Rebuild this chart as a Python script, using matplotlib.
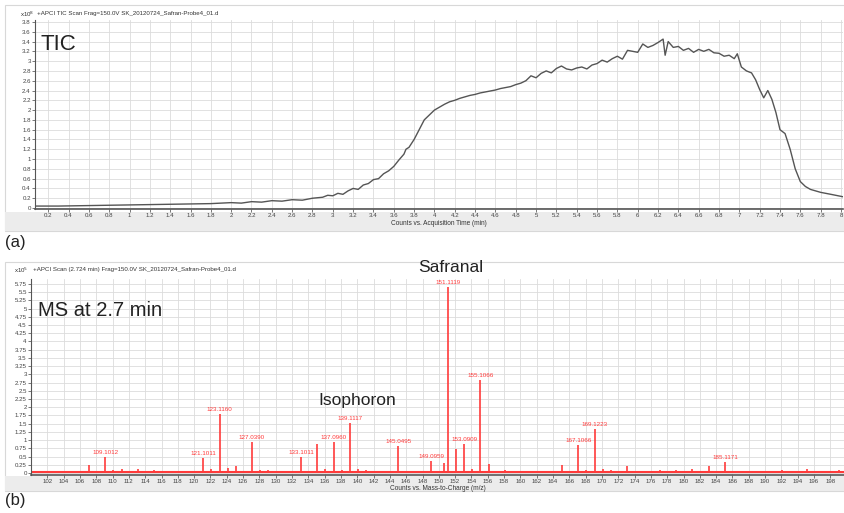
import matplotlib.pyplot as plt
from matplotlib.patches import Rectangle
import numpy as np

plt.rcParams['font.family'] = ['Liberation Sans', 'DejaVu Sans']

W, H = 845, 513

# TIC trace (x10^8 counts) vs acquisition time (min)
tic_time = [0.07, 0.3, 0.6, 0.9, 1.2, 1.5, 1.8, 2.0, 2.1, 2.2, 2.3, 2.4, 2.5, 2.6, 2.7,
            2.8, 2.9, 2.95, 3.0, 3.05, 3.1, 3.15, 3.2, 3.25, 3.3, 3.35, 3.4, 3.45, 3.5,
            3.55, 3.6, 3.65, 3.7, 3.72, 3.75, 3.8, 3.85, 3.9, 3.95, 4.0, 4.05, 4.1, 4.15,
            4.2, 4.25, 4.3, 4.35, 4.4, 4.45, 4.5, 4.55, 4.6, 4.65, 4.7, 4.75, 4.8, 4.85,
            4.9, 4.95, 5.0, 5.05, 5.1, 5.15, 5.2, 5.25, 5.3, 5.35, 5.4, 5.45, 5.5, 5.55,
            5.6, 5.65, 5.7, 5.75, 5.8, 5.85, 5.9, 5.95, 6.0, 6.05, 6.1, 6.15, 6.2, 6.25,
            6.27, 6.3, 6.35, 6.4, 6.45, 6.5, 6.55, 6.6, 6.65, 6.7, 6.75, 6.8, 6.85, 6.9,
            6.95, 6.98, 7.02, 7.07, 7.12, 7.16, 7.2, 7.24, 7.28, 7.32, 7.36, 7.4, 7.45,
            7.5, 7.55, 7.6, 7.65, 7.7, 7.8, 7.9, 8.02]
tic_counts = [0.04, 0.04, 0.05, 0.06, 0.07, 0.08, 0.09, 0.11, 0.10, 0.13, 0.12, 0.15, 0.14,
              0.17, 0.16, 0.20, 0.22, 0.26, 0.25, 0.30, 0.28, 0.35, 0.40, 0.38, 0.47, 0.50,
              0.58, 0.60, 0.70, 0.76, 0.85, 0.98, 1.10, 1.20, 1.24, 1.40, 1.60, 1.80, 1.90,
              2.00, 2.06, 2.12, 2.17, 2.20, 2.24, 2.27, 2.30, 2.32, 2.35, 2.37, 2.39, 2.41,
              2.44, 2.46, 2.48, 2.52, 2.55, 2.60, 2.70, 2.66, 2.75, 2.80, 2.76, 2.85, 2.90,
              2.84, 2.82, 2.86, 2.88, 2.84, 2.92, 2.95, 3.02, 2.98, 3.05, 3.10, 3.04, 3.22,
              3.20, 3.18, 3.35, 3.28, 3.32, 3.38, 3.45, 3.12, 3.40, 3.28, 3.30, 3.22, 3.26,
              3.18, 3.24, 3.20, 3.24, 3.17, 3.16, 3.10, 3.12, 3.05, 3.15, 2.88, 2.80, 2.76,
              2.62, 2.42, 2.25, 2.40, 2.22, 1.95, 1.60, 1.52, 1.20, 0.80, 0.54, 0.44, 0.38,
              0.32, 0.28, 0.23]

# MS spectrum (x10^5 counts) vs m/z
ms_mz = [101.1, 103.1, 105.1, 107.1, 109.1012, 110.1, 111.1, 113.1, 115.1, 117.1, 119.1,
         121.1011, 122.1, 123.1160, 124.1, 125.1, 127.0390, 128.1, 129.1, 131.1,
         133.1011, 134.1, 135.1, 136.1, 137.0960, 138.1, 139.1117, 140.1, 141.1, 143.1,
         145.0495, 146.1, 147.1, 149.0959, 150.6, 151.1119, 152.1, 153.0909, 154.1,
         155.1066, 156.1, 157.1, 158.1, 161.1, 163.1, 165.1, 167.1066, 168.1, 169.1223,
         170.1, 171.1, 173.1, 175.1, 177.1, 179.1, 181.1, 183.1, 185.1171, 186.1, 188.1,
         190.1, 192.1, 193.1, 195.1, 197.1, 199.1]
ms_int = [0.04, 0.04, 0.06, 0.24, 0.48, 0.08, 0.13, 0.12, 0.08, 0.05, 0.05,
          0.45, 0.13, 1.80, 0.15, 0.20, 0.94, 0.08, 0.08, 0.05,
          0.49, 0.05, 0.88, 0.12, 0.94, 0.10, 1.52, 0.12, 0.10, 0.05,
          0.82, 0.05, 0.05, 0.36, 0.30, 5.65, 0.74, 0.88, 0.12,
          2.82, 0.28, 0.06, 0.10, 0.05, 0.05, 0.25, 0.85, 0.08, 1.34,
          0.12, 0.08, 0.20, 0.07, 0.08, 0.08, 0.12, 0.20, 0.34, 0.06, 0.05,
          0.07, 0.08, 0.07, 0.12, 0.06, 0.10]
label_mz = [109.1012, 121.1011, 123.1160, 127.0390, 133.1011, 137.0960, 139.1117,
            145.0495, 149.0959, 151.1119, 153.0909, 155.1066, 167.1066, 169.1223, 185.1171]

fig = plt.figure(figsize=(W / 100, H / 100), dpi=100)


def box(x0, y0, x1, y1):
    # pixel box (top-left origin) -> figure fraction rect
    return [x0 / W, 1 - y1 / H, (x1 - x0) / W, (y1 - y0) / H]


def panel_frame(y0, y1, strip_top):
    fig.add_artist(Rectangle((5 / W, 1 - y1 / H), 840 / W, (y1 - y0) / H, transform=fig.transFigure,
                             facecolor='white', edgecolor='#d8d8d8', lw=0.8, zorder=0))
    fig.add_artist(Rectangle((5 / W, 1 - y1 / H), 840 / W, (y1 - strip_top) / H,
                             transform=fig.transFigure, facecolor='#ececec', edgecolor='none', zorder=0))


def style_axes(ax):
    ax.set_facecolor('white')
    ax.grid(True, color='#dcdcdc', lw=0.6)
    ax.set_axisbelow(True)
    for s in ['top', 'right']:
        ax.spines[s].set_visible(False)
    ax.spines['left'].set_color('#555555')
    ax.spines['bottom'].set_color('#555555')
    ax.spines['bottom'].set_linewidth(1.2)
    ax.tick_params(axis='both', labelsize=4.4, length=2, width=0.5, colors='#444444', pad=1)


def fmt(v):
    s = ('%.2f' % v).rstrip('0').rstrip('.')
    return s


# ---- (a) TIC ----
panel_frame(5, 231, 212)
ax1 = fig.add_axes(box(35, 19.5, 843, 209))
style_axes(ax1)
ax1.plot(tic_time, tic_counts, color='#555555', lw=1.0)
ax1.set_xlim(0.07, 8.02)
ax1.set_ylim(-0.02, 3.85)
xt = np.arange(0.2, 8.01, 0.2)
ax1.set_xticks(xt)
ax1.set_xticklabels([fmt(v) for v in xt])
yt = np.arange(0, 3.81, 0.2)
ax1.set_yticks(yt)
ax1.set_yticklabels([fmt(v) for v in yt])
ax1.set_xlabel('Counts vs. Acquisition Time (min)', fontsize=4.7, labelpad=1, color='#333333')
fig.text(20 / W, 1 - 14 / H, 'x10$^8$', fontsize=4.4, va='center', color='#333333')
fig.text(37 / W, 1 - 14 / H, '+APCI TIC Scan Frag=150.0V SK_20120724_Safran-Probe4_01.d',
         fontsize=4.4, va='center', color='#333333')
fig.text(41 / W, 1 - 45 / H, 'TIC', fontsize=16, va='center', color='#222222')
fig.text(5 / W, 1 - 243 / H, '(a)', fontsize=12, va='center', color='#222222')

# ---- (b) MS ----
panel_frame(262, 491, 476)
ax2 = fig.add_axes(box(31, 279, 845, 474.6))
style_axes(ax2)
ax2.axhline(0.02, color='#ff3b3b', lw=1.5, zorder=2)
ax2.vlines(ms_mz, 0, ms_int, color='#ff3b3b', lw=1.2, zorder=3)
for m, h in zip(ms_mz, ms_int):
    if m in label_mz:
        ax2.text(m, h + 0.06, '%.4f' % m, fontsize=4.5, color='#ff3b3b', ha='center', va='bottom')
ax2.set_xlim(100, 199.8)
ax2.set_ylim(-0.05, 5.9)
xt2 = np.arange(102, 199, 2)
ax2.set_xticks(xt2)
ax2.set_xticklabels([str(v) for v in xt2])
yt2 = np.arange(0, 5.76, 0.25)
ax2.set_yticks(yt2)
ax2.set_yticklabels([fmt(v) for v in yt2])
ax2.set_xlabel('Counts vs. Mass-to-Charge (m/z)', fontsize=4.7, labelpad=1, color='#333333')
fig.text(14 / W, 1 - 270 / H, 'x10$^5$', fontsize=4.4, va='center', color='#333333')
fig.text(33 / W, 1 - 270 / H, '+APCI Scan (2.724 min) Frag=150.0V SK_20120724_Safran-Probe4_01.d',
         fontsize=4.4, va='center', color='#333333')
fig.text(38 / W, 1 - 311 / H, 'MS at 2.7 min', fontsize=14.5, va='center', color='#222222')
fig.text(418 / W, 1 - 268 / H, 'Safranal', fontsize=12.5, va='center', color='#222222')
fig.text(318 / W, 1 - 400 / H, 'Isophoron', fontsize=12.5, va='center', color='#222222')
fig.text(5 / W, 1 - 500 / H, '(b)', fontsize=12, va='center', color='#222222')

fig.savefig('out.png', dpi=100)
